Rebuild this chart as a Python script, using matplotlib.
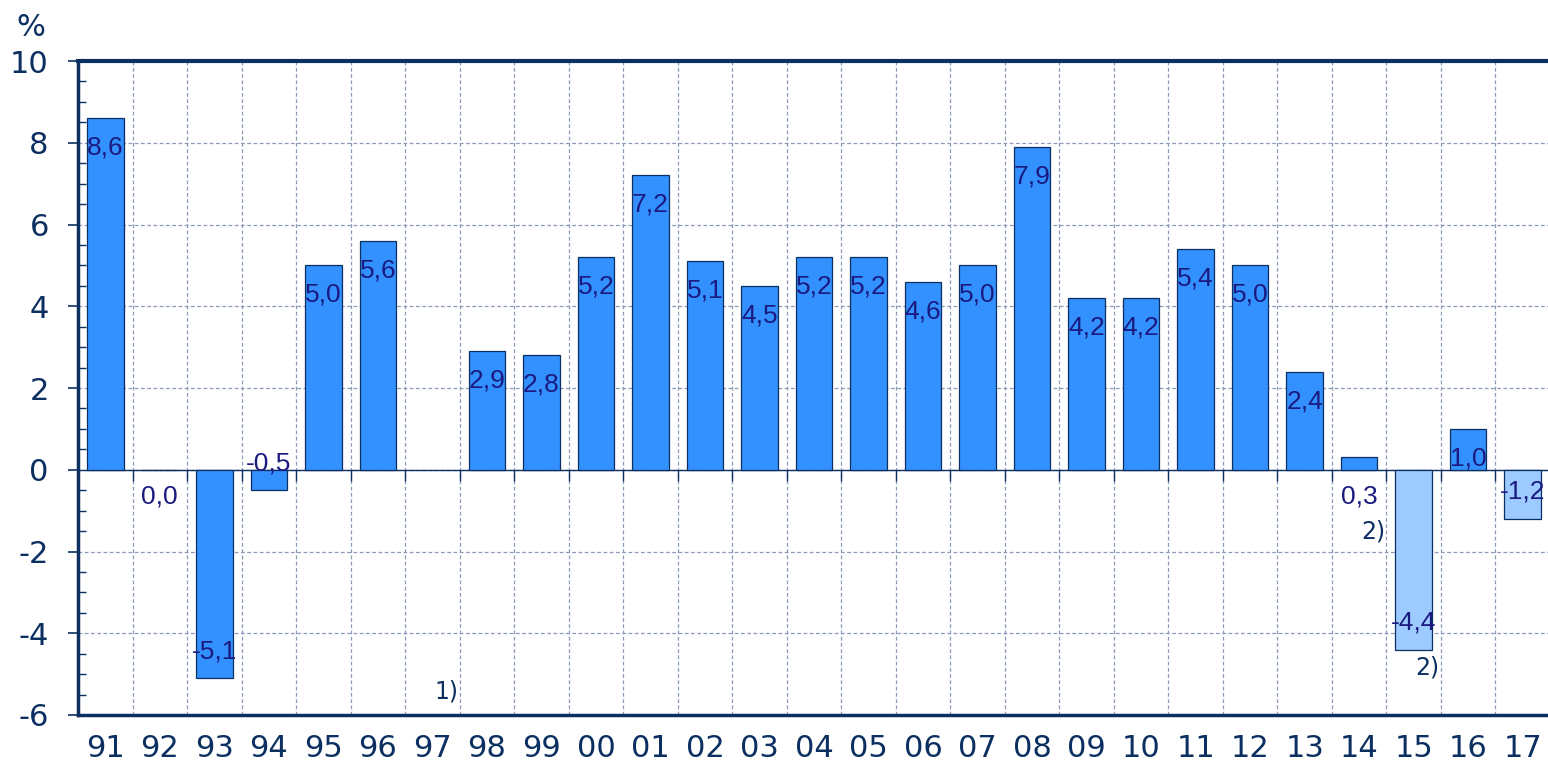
"""Annual change bar chart, 1991-2017 (values in %)."""

import matplotlib.pyplot as plt
import numpy as np

NAVY = "#0b2f60"
LABEL_INK = "#1a1a80"
BAR = "#3391ff"
BAR_LIGHT = "#9dcbff"
GRID = "#8a9ab8"

years = ["91", "92", "93", "94", "95", "96", "97", "98", "99", "00", "01",
         "02", "03", "04", "05", "06", "07", "08", "09", "10", "11", "12",
         "13", "14", "15", "16", "17"]
values = [8.6, 0.0, -5.1, -0.5, 5.0, 5.6, np.nan, 2.9, 2.8, 5.2, 7.2,
          5.1, 4.5, 5.2, 5.2, 4.6, 5.0, 7.9, 4.2, 4.2, 5.4, 5.0,
          2.4, 0.3, -4.4, 1.0, -1.2]
light_years = ["15", "17"]
# footnote markers: (year, text, y value in chart units)
footnotes = [("97", "1)", -5.43), ("14", "2)", -1.5), ("15", "2)", -4.85)]

y_ticks = [-6, -4, -2, 0, 2, 4, 6, 8, 10]


def main():
    plt.rcParams["font.family"] = ["DejaVu Sans"]
    plt.rcParams["axes.unicode_minus"] = False
    fig = plt.figure(figsize=(15.48, 7.70), dpi=100)
    ax = fig.add_axes([78 / 1548, 55 / 770, 1472 / 1548, 654 / 770])

    x = np.arange(len(years))
    vals = np.array(values, dtype=float)
    colors = [BAR_LIGHT if y in light_years else BAR for y in years]
    has = ~np.isnan(vals)
    ax.bar(x[has], vals[has], width=0.67,
           color=[c for c, h in zip(colors, has) if h], edgecolor=NAVY,
           linewidth=0.9, zorder=3)

    for xi, v in zip(x[has], vals[has]):
        if v >= 1:
            ty = v - 0.72
        elif v < 0:
            ty = v + 0.66
        else:
            ty = -0.66
        ax.text(xi, ty, f"{v:.1f}".replace(".", ","), ha="center",
                va="center", fontsize=19, color=LABEL_INK,
                family="Liberation Sans", zorder=4)

    for yr, txt, fy in footnotes:
        ax.text(years.index(yr) + 0.25, fy, txt, ha="center", va="center",
                fontsize=17, color=NAVY, zorder=4)

    ax.set_xlim(-0.5, len(years) - 0.5)
    ax.set_ylim(-6, 10)

    # category labels at centres, grid at boundaries
    ax.set_xticks(x)
    ax.set_xticklabels(years)
    ax.set_xticks(x[:-1] + 0.5, minor=True)
    ax.tick_params(axis="x", which="major", length=0, pad=14,
                   labelsize=22, labelcolor=NAVY)
    ax.tick_params(axis="x", which="minor", length=0)

    ax.set_yticks(y_ticks)
    ax.set_yticks(np.arange(-6, 10.01, 0.5), minor=True)
    ax.tick_params(axis="y", which="major", direction="out", length=7,
                   width=1.2, color=NAVY, pad=14, labelsize=22,
                   labelcolor=NAVY)
    ax.tick_params(axis="y", which="minor", direction="in", length=6,
                   width=1.0, color=NAVY)

    ax.grid(axis="x", which="minor", color=GRID, linestyle=(0, (3, 2)),
            linewidth=0.9, zorder=0)
    ax.grid(axis="y", which="major", color=GRID, linestyle=(0, (3, 2)),
            linewidth=0.9, zorder=0)

    # zero line with small category-boundary ticks below it
    ax.axhline(0, color=NAVY, linewidth=1.0, zorder=2)
    ax.vlines(x[:-1] + 0.5, -0.28, 0, color=NAVY, linewidth=1.0, zorder=2)

    ax.spines["right"].set_visible(False)
    ax.spines["top"].set_linewidth(3.0)
    ax.spines["left"].set_linewidth(2.5)
    ax.spines["bottom"].set_linewidth(2.5)
    for s in ("top", "left", "bottom"):
        ax.spines[s].set_color(NAVY)

    fig.text(16 / 1548, 1 - 27 / 770, "%", ha="left", va="center",
             fontsize=22, color=NAVY)

    fig.savefig("out.png", dpi=100, facecolor="white")
    plt.close(fig)


if __name__ == "__main__":
    main()
